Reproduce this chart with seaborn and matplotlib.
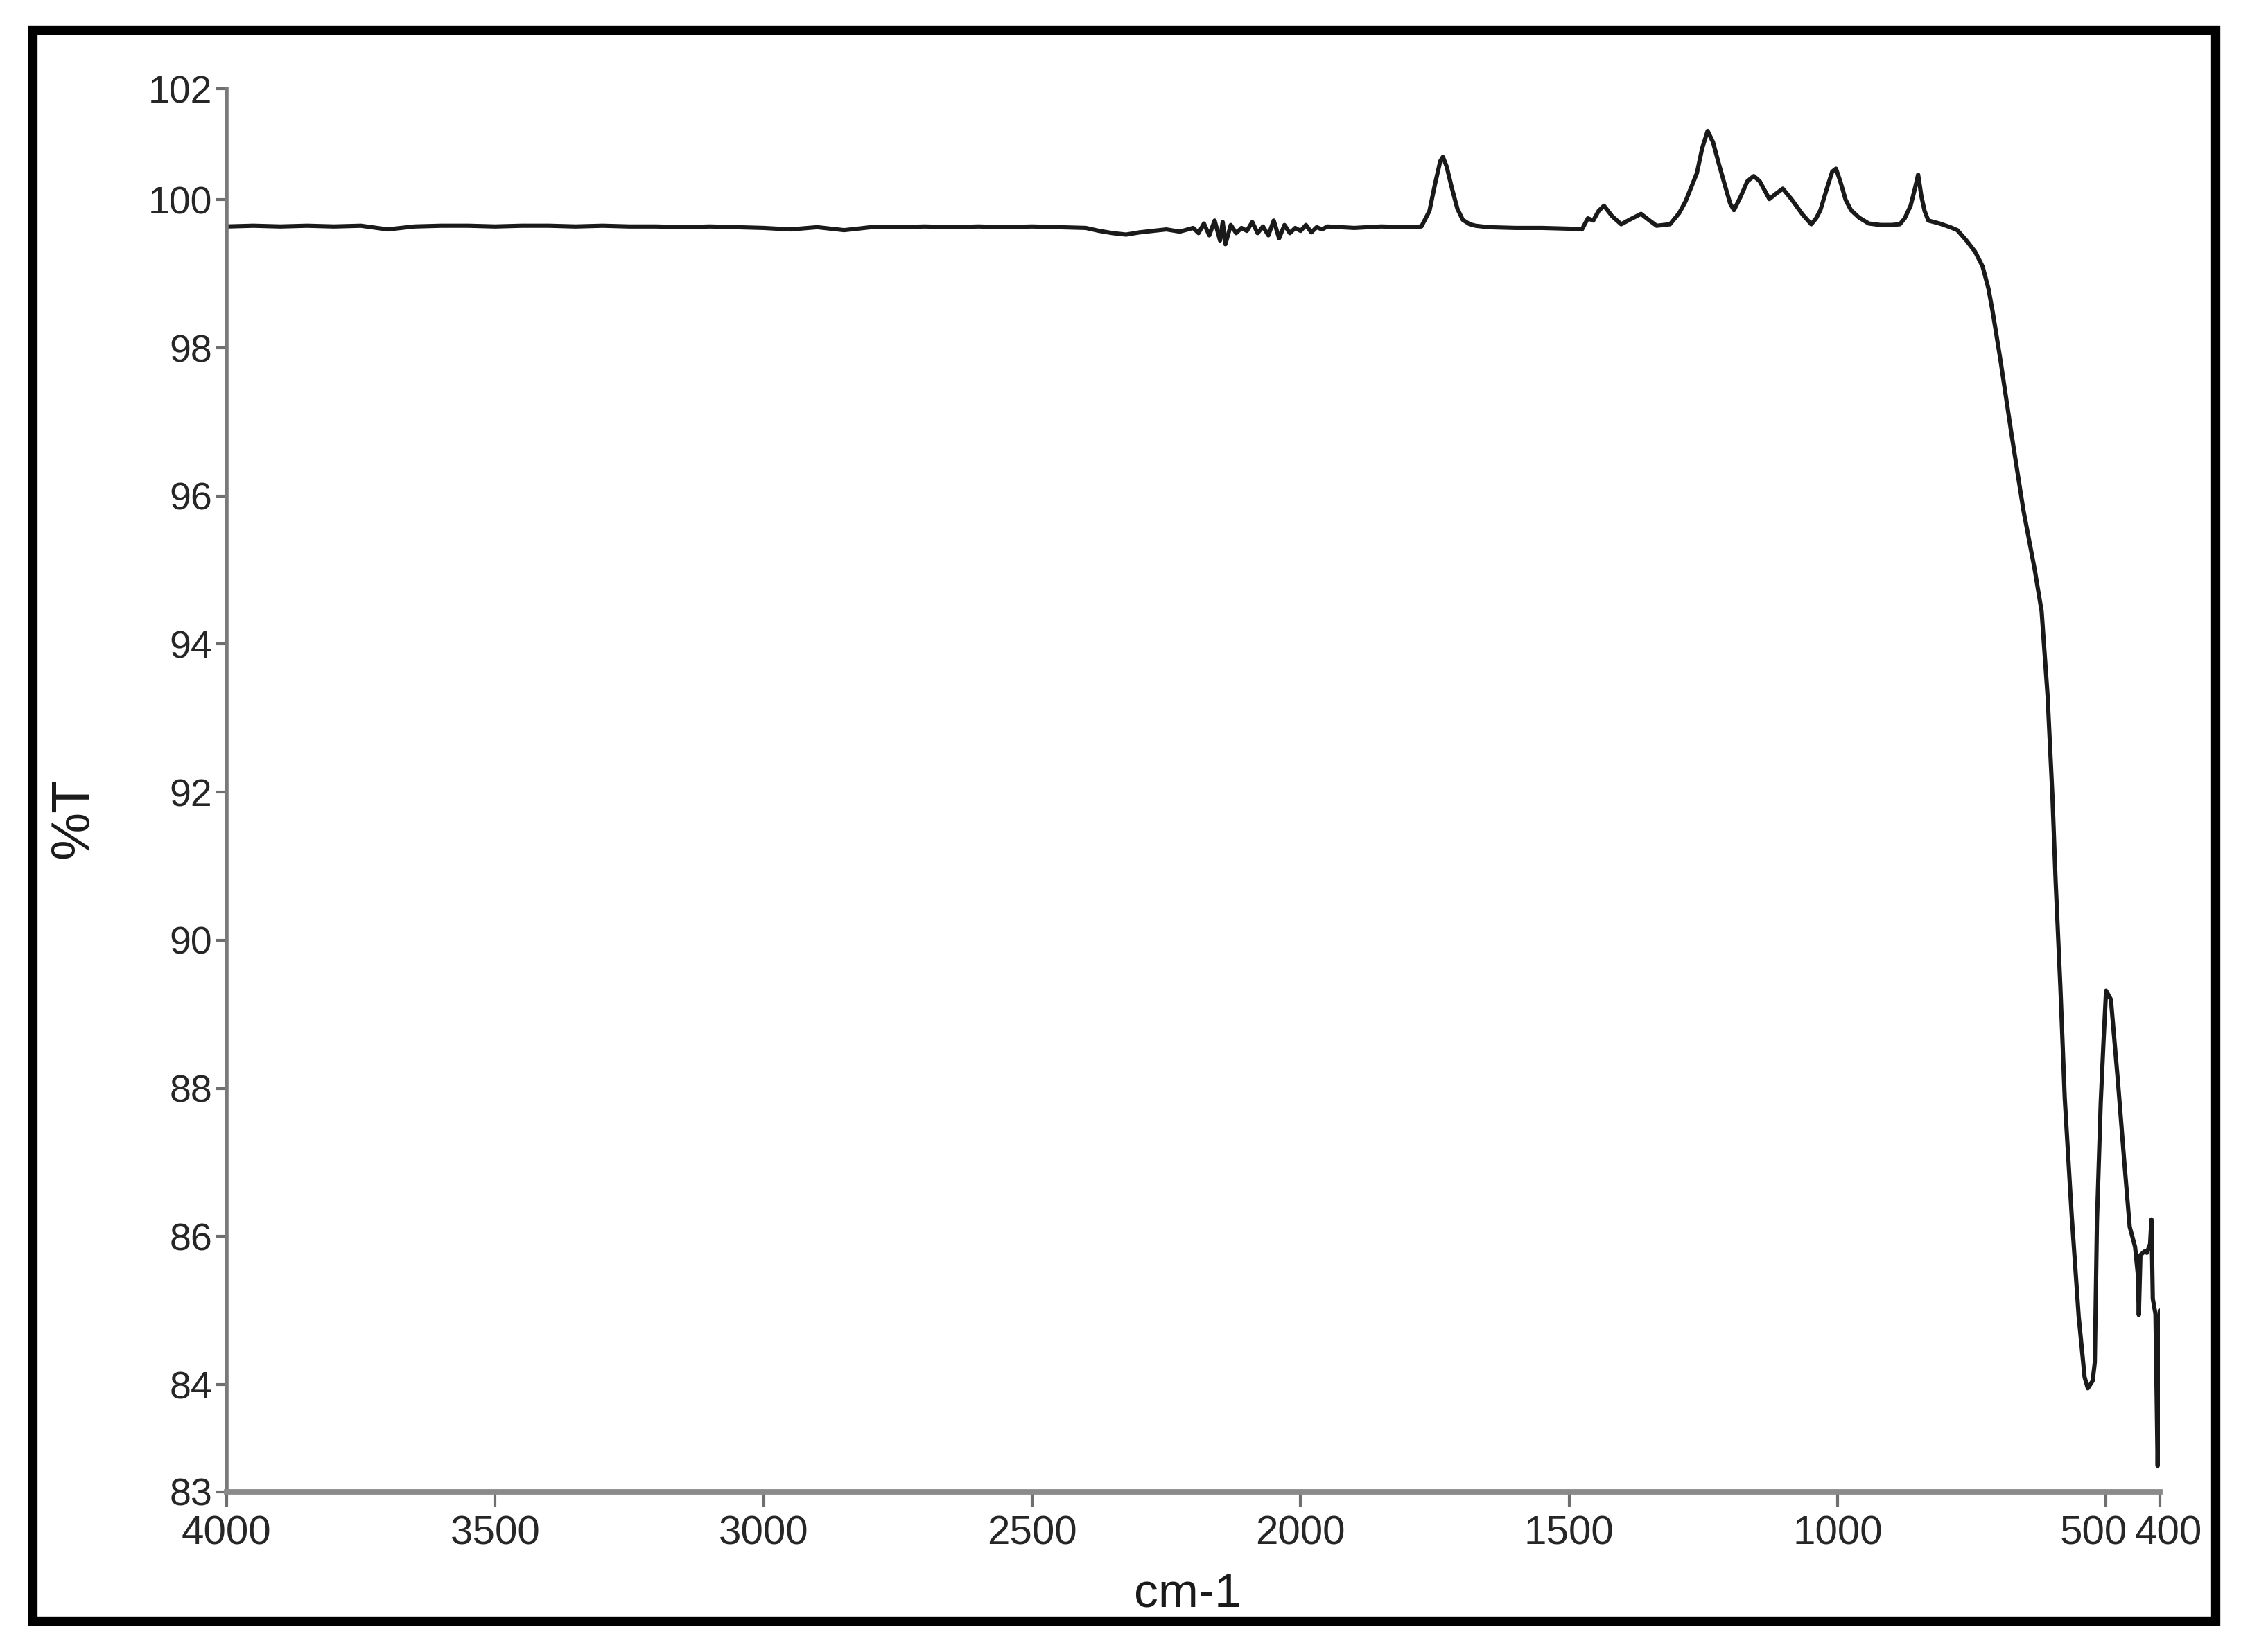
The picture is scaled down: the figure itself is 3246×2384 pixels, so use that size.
import matplotlib
matplotlib.use("Agg")
import matplotlib.pyplot as plt
import matplotlib.transforms as mtransforms
from matplotlib import font_manager
from matplotlib.patches import Rectangle
import seaborn as sns

# FTIR spectrum (cm-1, %T)
wavenumber = [
    4000, 3950, 3900, 3850, 3800, 3750, 3700, 3650, 3600, 3550, 3500, 3450, 3400,
    3350, 3300, 3250, 3200, 3150, 3100, 3050, 3000, 2950, 2900, 2850, 2800, 2750,
    2700, 2650, 2600, 2550, 2500, 2450, 2400, 2375, 2350, 2325, 2300, 2275, 2250,
    2225, 2200, 2190, 2180, 2170, 2160, 2150, 2145, 2140, 2130, 2120, 2110, 2100,
    2090, 2080, 2070, 2060, 2050, 2040, 2030, 2020, 2010, 2000, 1990, 1980, 1970,
    1960, 1950, 1900, 1850, 1800, 1775, 1760, 1750, 1740, 1735, 1728, 1718, 1708,
    1698, 1685, 1674, 1650, 1600, 1550, 1500, 1476, 1465, 1455, 1445, 1435, 1420,
    1403, 1385, 1366, 1350, 1337, 1312, 1295, 1283, 1272, 1262, 1252, 1242, 1232,
    1222, 1210, 1200, 1193, 1180, 1168, 1156, 1145, 1127, 1115, 1102, 1085, 1065,
    1049, 1040, 1032, 1020, 1010, 1003, 995, 985, 975, 960, 942, 920, 900, 884,
    875, 864, 856, 850, 844, 838, 831, 810, 790, 777, 760, 744, 730, 719, 711, 697,
    676, 654, 633, 620, 609, 600, 594, 585, 577, 564, 551, 540, 534, 525, 521, 517,
    510, 505, 500, 491, 478, 467, 456, 446, 441, 439, 436, 428, 424, 418, 415.5,
    413, 408, 404, 401, 400,
]
transmittance = [
    99.64, 99.65, 99.64, 99.65, 99.64, 99.65, 99.60, 99.64, 99.65, 99.65, 99.64, 99.65, 99.65,
    99.64, 99.65, 99.64, 99.64, 99.63, 99.64, 99.63, 99.62, 99.60, 99.63, 99.59, 99.63, 99.63,
    99.64, 99.63, 99.64, 99.63, 99.64, 99.63, 99.62, 99.58, 99.55, 99.53, 99.56, 99.58, 99.60,
    99.57, 99.62, 99.55, 99.68, 99.52, 99.72, 99.45, 99.70, 99.40, 99.66, 99.55, 99.62, 99.58,
    99.70, 99.55, 99.64, 99.52, 99.72, 99.48, 99.66, 99.55, 99.62, 99.58, 99.66, 99.56, 99.63,
    99.60, 99.64, 99.62, 99.64, 99.63, 99.64, 99.85, 100.20, 100.52, 100.58, 100.45, 100.15, 99.88,
    99.73, 99.67, 99.65, 99.63, 99.62, 99.62, 99.61, 99.60, 99.75, 99.72, 99.85, 99.92, 99.78,
    99.67, 99.74, 99.81, 99.72, 99.65, 99.67, 99.82, 99.98, 100.18, 100.36, 100.70, 100.93, 100.78,
    100.51, 100.20, 99.95, 99.86, 100.05, 100.25, 100.32, 100.25, 100.01, 100.08, 100.15, 100.00, 99.80,
    99.67, 99.75, 99.86, 100.15, 100.38, 100.42, 100.25, 100.00, 99.86, 99.76, 99.68, 99.66, 99.66, 99.67,
    99.75, 99.92, 100.15, 100.34, 100.05, 99.85, 99.72, 99.68, 99.63, 99.59, 99.45, 99.30, 99.10, 98.80, 98.48, 97.85,
    96.83, 95.81, 95.01, 94.44, 93.31, 91.96, 90.81, 89.35, 87.87, 86.28, 84.92, 84.10, 83.95, 84.05, 84.30, 86.20,
    87.80, 88.60, 89.32, 89.20, 88.10, 87.09, 86.13, 85.86, 85.50, 84.94, 85.75, 85.80, 85.78, 85.90, 86.23,
    85.16, 84.95, 82.90, 84.30, 85.00,
]

x_ticks = [4000, 3500, 3000, 2500, 2000, 1500, 1000, 500, 400]
x_tick_labels = ["4000", "3500", "3000", "2500", "2000", "1500", "1000", "500", "400"]
# the original software stretched the end labels: 83 and 102 sit on the axis ends
y_ticks = [82.55, 84, 86, 88, 90, 92, 94, 96, 98, 100, 101.5]
y_tick_labels = ["83", "84", "86", "88", "90", "92", "94", "96", "98", "100", "102"]

sns.set_style("ticks")
names = {f.name for f in font_manager.fontManager.ttflist}
narrow = "Liberation Sans Narrow" if "Liberation Sans Narrow" in names else "Liberation Sans"
plt.rcParams["font.family"] = ["Liberation Sans", "DejaVu Sans"]

fig = plt.figure(figsize=(16.23, 11.92), dpi=200)
ax = fig.add_axes([0.1007, 0.0969, 0.8592, 0.8494])

sns.lineplot(x=wavenumber, y=transmittance, sort=False, estimator=None,
             color="#1a1a1a", linewidth=2.2, ax=ax)

ax.set_xlim(4000, 400)
ax.set_ylim(y_ticks[0], y_ticks[-1])
ax.set_xticks(x_ticks)
ax.set_xticklabels(x_tick_labels, family=narrow, fontsize=21, color="#262626")
ax.set_yticks(y_ticks)
ax.set_yticklabels(y_tick_labels, family=narrow, fontsize=20, color="#262626")

sns.despine(ax=ax)
ax.spines["left"].set_color("#7a7a7a")
ax.spines["left"].set_linewidth(2)
ax.spines["bottom"].set_color("#8a8a8a")
ax.spines["bottom"].set_linewidth(2.8)
ax.tick_params(axis="x", direction="out", length=8, width=1.5, color="#6f6f6f", pad=4)
ax.tick_params(axis="y", direction="out", length=5.5, width=1.5, color="#6f6f6f", pad=2)

# 500 and 400 butt against each other in the original: nudge them apart
# (after tick_params, which would reset the label transforms)
ticks = ax.xaxis.get_major_ticks()
for tick, dx in [(ticks[-2], -18), (ticks[-1], 12)]:
    lab = tick.label1
    lab.set_transform(lab.get_transform() + mtransforms.ScaledTranslation(dx / 200, 0, fig.dpi_scale_trans))

ax.set_xlabel("cm-1", family=narrow, fontsize=25, color="#1a1a1a")
ax.xaxis.set_label_coords(0.497, -0.057)
ax.set_ylabel("%T", fontsize=28, color="#1a1a1a")
ax.yaxis.set_label_coords(-0.066, 0.48)

# thick black frame around the whole figure
fig.add_artist(Rectangle((0.0145, 0.0189), 0.9701, 0.9631, transform=fig.transFigure,
                         fill=False, edgecolor="black", linewidth=4.8, zorder=5))

fig.savefig("out.png", dpi=200)
